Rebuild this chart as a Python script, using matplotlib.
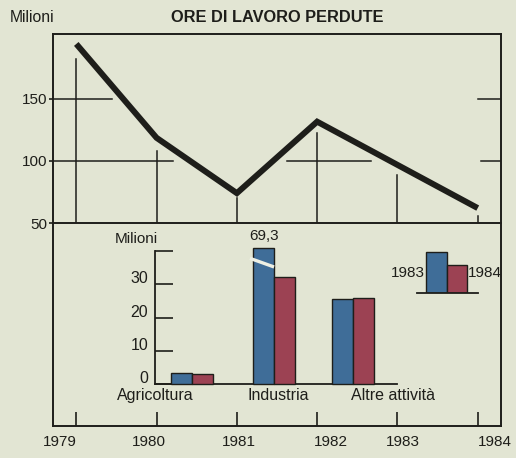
import numpy as np
import matplotlib.pyplot as plt
from matplotlib.transforms import ScaledTranslation

plt.rcParams['font.family'] = ['Liberation Sans', 'DejaVu Sans']

# Data
years = [1979, 1980, 1981, 1982, 1984]
hours_lost = [194, 118.5, 74, 131.5, 62]          # milioni di ore
tick_years = [1979, 1980, 1981, 1982, 1983, 1984]

sectors = ['Agricoltura', 'Industria', 'Altre attività']
hours_1983 = [3.3, 69.3, 25.5]
hours_1984 = [3.0, 32.1, 25.8]

# Colours
bg = '#e2e5d3'
ink = '#1e1e1a'
blue = '#3f6d98'
red = '#9c4253'

W, H = 516, 458
fig = plt.figure(figsize=(W / 100, H / 100), dpi=100, facecolor=bg)

def px_box(x0, y0, x1, y1):
    # pixel box (top-left origin) -> figure fraction rect
    return [x0 / W, 1 - y1 / H, (x1 - x0) / W, (y1 - y0) / H]

xlim = (1978.71, 1984.29)

# ---- top panel: line chart
ax = fig.add_axes(px_box(53, 34, 501, 223))
ax.set_facecolor('none')
ax.set_xlim(xlim)
ax.set_ylim(50, 202)
for s in ax.spines.values():
    s.set_color(ink)
    s.set_linewidth(1.4)
ax.set_xticks([])
ax.set_yticks([50, 100, 150])
ax.set_yticklabels(['50', '100', '150'])
ax.tick_params(axis='y', direction='out', length=3, width=1.2, pad=1,
               labelsize=11, colors=ink)

# vertical guide lines under the curve
grid_top = [182, 108, 70, 122, 89, 56]
for yr, top in zip(tick_years, grid_top):
    ax.plot([yr, yr], [50, top], color=ink, lw=1.1)
# horizontal guide lines
ax.plot([xlim[0], 1979.44], [150, 150], color=ink, lw=1.1)
ax.plot([xlim[0], 1980.2], [100, 100], color=ink, lw=1.1)
ax.plot([1981.62, 1982.67], [100, 100], color=ink, lw=1.1)
ax.plot([1984.0, xlim[1]], [150, 150], color=ink, lw=1.1)
ax.plot([1984.04, xlim[1]], [100, 100], color=ink, lw=1.1)

ax.plot(years, hours_lost, color=ink, lw=4.3, solid_joinstyle='miter',
        solid_capstyle='butt')

fig.text(10 / W, 1 - 17 / H, 'Milioni', fontsize=11.3, color=ink,
         ha='left', va='center')
fig.text(277 / W, 1 - 17 / H, 'ORE DI LAVORO PERDUTE', fontsize=11.8,
         fontweight='bold', color=ink, ha='center', va='center')

# ---- bottom panel: year axis
axb = fig.add_axes(px_box(53, 223, 501, 426))
axb.set_facecolor('none')
axb.set_xlim(xlim)
axb.set_ylim(0, 1)
axb.spines['top'].set_visible(False)
for s in ['left', 'right', 'bottom']:
    axb.spines[s].set_color(ink)
    axb.spines[s].set_linewidth(1.4)
axb.set_yticks([])
axb.set_xticks(tick_years)
axb.set_xticklabels([])
axb.tick_params(axis='x', direction='in', length=10, width=1.2, colors=ink)
label_shift = [-0.2, -0.1, 0.02, 0.17, 0.07, 0.21]
for yr, sh in zip(tick_years, label_shift):
    axb.text(yr + sh, -0.079, str(yr), fontsize=11, color=ink,
             ha='center', va='center',
             transform=axb.get_xaxis_transform())

# ---- inset bar chart
axi = fig.add_axes(px_box(155, 251, 397, 384))
axi.set_facecolor('none')
axi.set_xlim(0, 242 / 21)
axi.set_ylim(0, 40)
axi.spines['top'].set_visible(False)
axi.spines['right'].set_visible(False)
for s in ['left', 'bottom']:
    axi.spines[s].set_color(ink)
    axi.spines[s].set_linewidth(1.3)
axi.set_xticks([])
axi.set_yticks([0, 10, 20, 30, 40])
axi.set_yticklabels(['0', '10', '20', '30', ''])
axi.tick_params(axis='y', direction='in', length=13, width=1.2, pad=5,
                labelsize=11.5, colors=ink)
# the labels sit a little above their ticks in the original
lift = ScaledTranslation(0, 5 / 72, fig.dpi_scale_trans)
for lab in axi.get_yticklabels():
    lab.set_transform(lab.get_transform() + lift)

centers = np.array([1.76, 5.67, 9.43])
cap = 41  # broken bar drawn to this height
shown_1983 = [min(v, cap) for v in hours_1983]
axi.bar(centers - 0.5, shown_1983, width=1.0, color=blue, edgecolor=ink,
        linewidth=1.0, clip_on=False, zorder=3)
axi.bar(centers + 0.5, hours_1984, width=1.0, color=red, edgecolor=ink,
        linewidth=1.0, clip_on=False, zorder=3)

# break mark on the Industria bar
bx = centers[1] - 0.5
axi.plot([bx - 0.65, bx + 0.5], [37.8, 35.2], color='#eef0e4', lw=2.4,
         solid_capstyle='butt', clip_on=False, zorder=4)
axi.text(bx, cap + 3.6, '69,3', fontsize=11, color=ink, ha='center',
         va='center', clip_on=False)

axi.text(0.14, 43.6, 'Milioni', fontsize=11, color=ink, ha='right',
         va='center')
label_x = [0.0, 5.86, 11.33]
for lx, name in zip(label_x, sectors):
    axi.text(lx, -3.6, name, fontsize=11.5, color=ink, ha='center',
             va='center')

# ---- legend glyph
axl = fig.add_axes(px_box(417, 240, 478, 293))
axl.set_facecolor('none')
axl.set_xlim(0, 61)
axl.set_ylim(0, 53)
for s in ['top', 'right', 'left']:
    axl.spines[s].set_visible(False)
axl.spines['bottom'].set_color(ink)
axl.spines['bottom'].set_linewidth(1.3)
axl.set_xticks([])
axl.set_yticks([])
axl.bar([19.5], [41], width=21, color=blue, edgecolor=ink, linewidth=1.0)
axl.bar([40], [28], width=20, color=red, edgecolor=ink, linewidth=1.0)
axl.text(8, 20, '1983', fontsize=11, color=ink, ha='right', va='center')
axl.text(51, 20, '1984', fontsize=11, color=ink, ha='left', va='center')

fig.savefig('out.png', dpi=100, facecolor=bg)
